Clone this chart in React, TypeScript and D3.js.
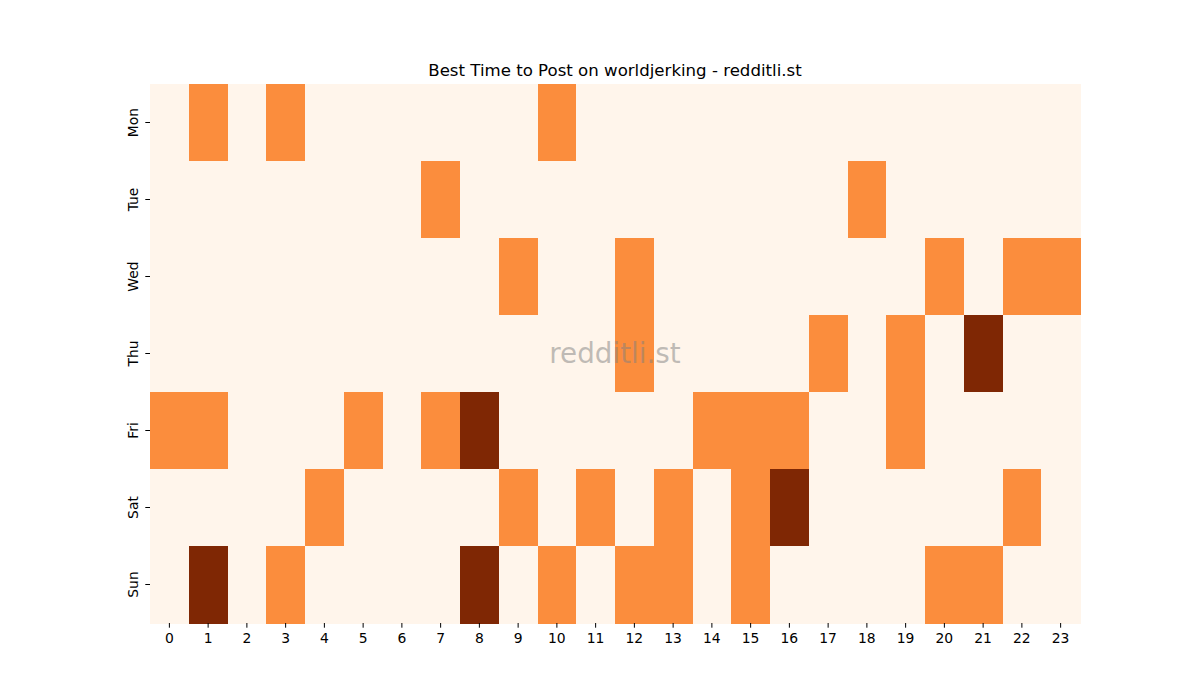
import { useEffect, useRef } from 'react';
import * as d3 from 'd3';

const days = ['Mon', 'Tue', 'Wed', 'Thu', 'Fri', 'Sat', 'Sun'];
const hours = d3.range(24).map((h) => String(h));

// posts per day/hour slot (0 = none)
const mon = [0, 1, 0, 1, 0, 0, 0, 0, 0, 0, 1, 0, 0, 0, 0, 0, 0, 0, 0, 0, 0, 0, 0, 0];
const tue = [0, 0, 0, 0, 0, 0, 0, 1, 0, 0, 0, 0, 0, 0, 0, 0, 0, 0, 1, 0, 0, 0, 0, 0];
const wed = [0, 0, 0, 0, 0, 0, 0, 0, 0, 1, 0, 0, 1, 0, 0, 0, 0, 0, 0, 0, 1, 0, 1, 1];
const thu = [0, 0, 0, 0, 0, 0, 0, 0, 0, 0, 0, 0, 1, 0, 0, 0, 0, 1, 0, 1, 0, 2, 0, 0];
const fri = [1, 1, 0, 0, 0, 1, 0, 1, 2, 0, 0, 0, 0, 0, 1, 1, 1, 0, 0, 1, 0, 0, 0, 0];
const sat = [0, 0, 0, 0, 1, 0, 0, 0, 0, 1, 0, 1, 0, 1, 0, 1, 2, 0, 0, 0, 0, 0, 1, 0];
const sun = [0, 2, 0, 1, 0, 0, 0, 0, 2, 0, 1, 0, 1, 1, 0, 1, 0, 0, 0, 0, 1, 1, 0, 0];

const grid = [mon, tue, wed, thu, fri, sat, sun];

const App = () => {
  const ref = useRef<SVGSVGElement>(null);

  useEffect(() => {
    const width = 1200;
    const height = 700;
    const margin = { top: 84, right: 120, bottom: 77, left: 150 };
    const innerW = width - margin.left - margin.right;
    const innerH = height - margin.top - margin.bottom;

    const svg = d3.select(ref.current);
    svg.selectAll('*').remove();
    svg.attr('width', width).attr('height', height);

    const font = 'DejaVu Sans, sans-serif';

    const x = d3.scaleBand().domain(hours).range([0, innerW]).padding(0);
    const y = d3.scaleBand().domain(days).range([0, innerH]).padding(0);
    const maxVal = d3.max(grid.flat()) || 1;
    const color = d3.scaleSequential(d3.interpolateOranges).domain([0, maxVal]);

    const g = svg
      .append('g')
      .attr('transform', `translate(${margin.left},${margin.top})`);

    const cells = grid.flatMap((row, i) =>
      row.map((v, j) => ({ day: days[i], hour: hours[j], v }))
    );

    g.selectAll('rect.cell')
      .data(cells)
      .enter()
      .append('rect')
      .attr('class', 'cell')
      .attr('x', (d) => x(d.hour)!)
      .attr('y', (d) => y(d.day)!)
      .attr('width', x.bandwidth() + 0.5)
      .attr('height', y.bandwidth() + 0.5)
      .attr('fill', (d) => color(d.v))
      .attr('shape-rendering', 'crispEdges');

    // axes
    const xAxis = g
      .append('g')
      .attr('transform', `translate(0,${innerH})`)
      .call(d3.axisBottom(x).tickSize(4.7).tickPadding(5));
    xAxis.select('.domain').remove();
    xAxis
      .selectAll('text')
      .attr('font-family', font)
      .attr('font-size', '13.9px')
      .attr('fill', '#000');
    xAxis.selectAll('line').attr('stroke', '#000').attr('stroke-width', 1);

    const yAxis = g.append('g').call(d3.axisLeft(y).tickSize(4.7).tickPadding(5));
    yAxis.select('.domain').remove();
    yAxis.selectAll('line').attr('stroke', '#000').attr('stroke-width', 1);
    yAxis
      .selectAll('text')
      .attr('font-family', font)
      .attr('font-size', '13.9px')
      .attr('fill', '#000')
      .attr('x', null)
      .attr('dy', null)
      .attr('text-anchor', 'middle')
      .attr('transform', 'translate(-12,0) rotate(-90)');

    // watermark
    g.append('text')
      .attr('x', innerW / 2)
      .attr('y', innerH / 2)
      .attr('text-anchor', 'middle')
      .attr('dominant-baseline', 'central')
      .attr('font-family', font)
      .attr('font-size', '27.8px')
      .attr('fill', 'gray')
      .attr('fill-opacity', 0.5)
      .text('redditli.st');

    // title
    svg
      .append('text')
      .attr('x', margin.left + innerW / 2)
      .attr('y', margin.top - 8)
      .attr('text-anchor', 'middle')
      .attr('font-family', font)
      .attr('font-size', '16.6px')
      .attr('fill', '#000')
      .text('Best Time to Post on worldjerking - redditli.st');
  }, []);

  return (
    <div style={{ margin: -8 }}>
      <svg ref={ref}></svg>
    </div>
  );
};

export default App;
